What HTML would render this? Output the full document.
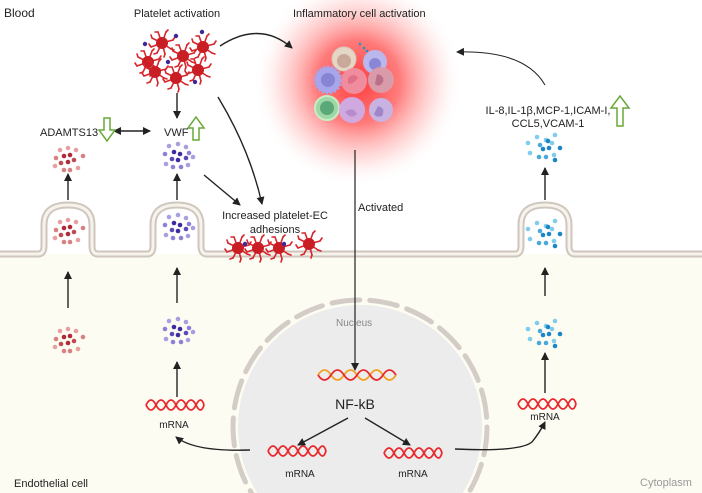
<!DOCTYPE html>
<html><head><meta charset="utf-8"><style>
html,body{margin:0;padding:0;background:#fff;width:702px;height:493px;overflow:hidden}
svg{display:block}
text{font-family:"Liberation Sans",sans-serif;fill:#222}
</style></head><body>
<svg width="702" height="493" viewBox="0 0 702 493" xmlns="http://www.w3.org/2000/svg" style="overflow:hidden">
<defs>
<radialGradient id="glow" cx="0.5" cy="0.5" r="0.5">
<stop offset="0" stop-color="#ff3030" stop-opacity="0.95"/>
<stop offset="0.4" stop-color="#ff5050" stop-opacity="0.75"/>
<stop offset="0.75" stop-color="#ffa0a0" stop-opacity="0.3"/>
<stop offset="1" stop-color="#ffffff" stop-opacity="0"/>
</radialGradient>
<clipPath id="cl"><rect x="0" y="0" width="702" height="493"/></clipPath>
<marker id="ah" markerWidth="8" markerHeight="8" refX="7" refY="4" orient="auto" markerUnits="userSpaceOnUse"><path d="M0,0 L8,4 L0,8 z" fill="#222"/></marker>
<marker id="ahs" markerWidth="8" markerHeight="8" refX="1" refY="4" orient="auto-start-reverse" markerUnits="userSpaceOnUse"><path d="M0,0 L8,4 L0,8 z" fill="#222"/></marker>
<g id="plt">
<g stroke="#d8262b" stroke-width="1.6" stroke-linecap="round" fill="none">
<path d="M0,0 L11,-3 M0,0 L9,6 M0,0 L3,11 M0,0 L-5,10 M0,0 L-11,4 M0,0 L-10,-5 M0,0 L-4,-11 M0,0 L4,-11"/>
<path d="M11,-3 l2,-3 M9,6 l3,1 M3,11 l-1,3 M-5,10 l-3,1 M-11,4 l-2,-3 M-10,-5 l-1,-3 M-4,-11 l-3,0 M4,-11 l2,-2"/>
</g>
<circle r="6" fill="#c81e24"/>
</g>
<g id="dna">
<path d="M0,0 q5,-10 10,0 t10,0 t10,0 t10,0 t10,0 t8,0" stroke="#e8282c" stroke-width="1.8" fill="none"/>
<path d="M0,0 q5,10 10,0 t10,0 t10,0 t10,0 t10,0 t8,0" stroke="#e8282c" stroke-width="1.8" fill="none"/>
</g>
</defs>
<g clip-path="url(#cl)">
<rect x="0" y="254" width="702" height="239" fill="#fdfcf3"/>
<circle cx="360" cy="427" r="122" fill="#ececec"/>
<circle cx="360" cy="427" r="127" fill="none" stroke="#d4ccc6" stroke-width="5" stroke-dasharray="28 10" stroke-linecap="round"/>
</g>
<text x="336" y="326" font-size="10" style="fill:#888">Nucleus</text>
<g fill="none" stroke-linecap="round">
<path d="M0,254 H38 Q44,254 44,246 V225 Q44,205 68,205 Q92,205 92,225 V246 Q92,254 98,254 H147 Q153,254 153,246 V225 Q153,205 177,205 Q201,205 201,225 V246 Q201,254 207,254 H515 Q521,254 521,246 V225 Q521,205 545,205 Q569,205 569,225 V246 Q569,254 575,254 H702" stroke="#cfc6bd" stroke-width="7"/>
<path d="M0,254 H38 Q44,254 44,246 V225 Q44,205 68,205 Q92,205 92,225 V246 Q92,254 98,254 H147 Q153,254 153,246 V225 Q153,205 177,205 Q201,205 201,225 V246 Q201,254 207,254 H515 Q521,254 521,246 V225 Q521,205 545,205 Q569,205 569,225 V246 Q569,254 575,254 H702" stroke="#f6f2ec" stroke-width="3"/>
</g>
<circle cx="358" cy="82" r="105" fill="url(#glow)"/>
<g>
<circle cx="344" cy="59" r="12" fill="#e6d6c6" stroke="#d9c7b6"/><circle cx="344" cy="61" r="7" fill="#c9a99a"/>
<circle cx="375" cy="62" r="12" fill="#b9b7ec"/><circle cx="375" cy="64" r="6" fill="#8a86d6"/>
<circle cx="328" cy="80" r="13" fill="#a9a5ea" stroke="#a9a5ea" stroke-width="3" stroke-dasharray="2 2"/><circle cx="328" cy="80" r="7" fill="#8884d4"/>
<circle cx="354" cy="81" r="13" fill="#ef8d9f"/><path d="M348,78 q6,-6 10,0 q-4,6 -10,6" fill="#e07088"/>
<circle cx="381" cy="80" r="13" fill="#d99aaa"/><path d="M377,74 q8,2 6,8 q-4,6 -8,2" fill="#b97088"/>
<circle cx="327" cy="108" r="12" fill="#9ed6a6" stroke="#c8ecc6" stroke-width="2"/><circle cx="327" cy="108" r="7" fill="#5aa878"/>
<circle cx="352" cy="110" r="13" fill="#d0a9e0"/><path d="M345,112 q8,-6 12,2 q-6,6 -12,-2" fill="#b88ccc"/>
<circle cx="381" cy="110" r="12" fill="#c8b2e2"/><path d="M378,106 q8,2 4,10 q-6,2 -8,-2" fill="#9f86c8"/>
<circle cx="360" cy="44" r="1.3" fill="#2a8ec8"/><circle cx="364" cy="48" r="1.3" fill="#2a8ec8"/><circle cx="367" cy="51" r="1.3" fill="#2a8ec8"/>
</g>
<use href="#plt" x="162" y="43"/><use href="#plt" x="203" y="47"/><use href="#plt" x="183" y="56"/>
<use href="#plt" x="148" y="62"/><use href="#plt" x="155" y="72"/><use href="#plt" x="176" y="78"/><use href="#plt" x="198" y="70"/>
<g fill="#3a2a9a"><circle cx="145" cy="44" r="2.2"/><circle cx="176" cy="36" r="2.2"/><circle cx="202" cy="32" r="2.2"/><circle cx="168" cy="62" r="2.2"/><circle cx="195" cy="82" r="2.2"/></g>
<use href="#plt" x="238" y="248"/><use href="#plt" x="258" y="248"/><use href="#plt" x="279" y="248"/><use href="#plt" x="309" y="244"/>
<g fill="#3a2a9a"><circle cx="245" cy="244" r="2.2"/><circle cx="284" cy="244" r="2.2"/></g>
<g id="dotsR">
<circle cx="60" cy="150" r="2.3" fill="#e6a0a0"/><circle cx="68" cy="148" r="2.3" fill="#e6a0a0"/><circle cx="76" cy="150" r="2.3" fill="#e6a0a0"/>
<circle cx="56" cy="158" r="2.3" fill="#d98080"/><circle cx="64" cy="156" r="2.3" fill="#b02a36"/><circle cx="70" cy="155" r="2.3" fill="#b02a36"/><circle cx="83" cy="156" r="2.3" fill="#d98080"/>
<circle cx="61" cy="163" r="2.3" fill="#c04a50"/><circle cx="68" cy="162" r="2.3" fill="#b02a36"/><circle cx="74" cy="160" r="2.3" fill="#c04a50"/>
<circle cx="55" cy="166" r="2.3" fill="#e6a0a0"/><circle cx="64" cy="170" r="2.3" fill="#d98080"/><circle cx="70" cy="170" r="2.3" fill="#d98080"/><circle cx="78" cy="168" r="2.3" fill="#e6a0a0"/>
</g>
<use href="#dotsR" x="0" y="72"/>
<use href="#dotsR" x="0" y="181"/>
<g id="dotsB">
<circle cx="169" cy="146" r="2.3" fill="#a89ee0"/><circle cx="178" cy="144" r="2.3" fill="#a89ee0"/><circle cx="186" cy="147" r="2.3" fill="#a89ee0"/>
<circle cx="165" cy="154" r="2.3" fill="#8e80d8"/><circle cx="174" cy="152" r="2.3" fill="#3c2aa0"/><circle cx="180" cy="154" r="2.3" fill="#3c2aa0"/><circle cx="189" cy="153" r="2.3" fill="#8e80d8"/>
<circle cx="172" cy="159" r="2.3" fill="#5a48b8"/><circle cx="178" cy="160" r="2.3" fill="#3c2aa0"/><circle cx="186" cy="158" r="2.3" fill="#5a48b8"/><circle cx="193" cy="157" r="2.3" fill="#a89ee0"/>
<circle cx="166" cy="164" r="2.3" fill="#a89ee0"/><circle cx="173" cy="167" r="2.3" fill="#8e80d8"/><circle cx="181" cy="167" r="2.3" fill="#8e80d8"/><circle cx="188" cy="165" r="2.3" fill="#a89ee0"/>
</g>
<use href="#dotsB" x="0" y="71"/>
<use href="#dotsB" x="0" y="175"/>
<g id="dotsC">
<circle cx="537" cy="137" r="2.3" fill="#80ccec"/><circle cx="546" cy="140" r="2.3" fill="#80ccec"/><circle cx="555" cy="135" r="2.3" fill="#80ccec"/>
<circle cx="528" cy="143" r="2.3" fill="#80ccec"/><circle cx="540" cy="145" r="2.3" fill="#4aa8dc"/><circle cx="548" cy="141" r="2.3" fill="#1a86c8"/><circle cx="552" cy="143" r="2.3" fill="#80ccec"/>
<circle cx="543" cy="149" r="2.3" fill="#1a86c8"/><circle cx="549" cy="148" r="2.3" fill="#1a86c8"/><circle cx="560" cy="148" r="2.3" fill="#1a86c8"/>
<circle cx="530" cy="153" r="2.3" fill="#80ccec"/><circle cx="539" cy="157" r="2.3" fill="#4aa8dc"/><circle cx="546" cy="157" r="2.3" fill="#4aa8dc"/><circle cx="554" cy="155" r="2.3" fill="#80ccec"/><circle cx="555" cy="160" r="2.3" fill="#1a86c8"/>
</g>
<use href="#dotsC" x="0" y="86"/>
<use href="#dotsC" x="0" y="186"/>
<use href="#dna" x="146" y="405"/>
<use href="#dna" x="518" y="404"/>
<use href="#dna" x="268" y="451"/>
<use href="#dna" x="384" y="453"/>
<g>
<path d="M318,375 q6.5,-10 13,0 t13,0 t13,0 t13,0 t13,0 t13,0" stroke="#f0a020" stroke-width="1.8" fill="none"/>
<path d="M318,375 q6.5,10 13,0 t13,0 t13,0 t13,0 t13,0 t13,0" stroke="#e8282c" stroke-width="1.8" fill="none"/>
</g>
<g stroke="#222" stroke-width="1.4" fill="none" marker-end="url(#ah)">
<path d="M177,93 V118"/>
<path d="M68,200 V174"/><path d="M177,200 V174"/><path d="M545,200 V168"/>
<path d="M68,308 V272"/><path d="M177,303 V268"/><path d="M545,296 V268"/>
<path d="M177,397 V362"/><path d="M545,393 V353"/>
<path d="M204,175 L240,205"/>
<path d="M218,97 Q250,150 262,204"/>
<path d="M220,46 Q260,20 292,48"/>
<path d="M545,85 Q525,50 457,52" stroke-width="1"/>
<path d="M355,150 V370" stroke-width="1.2"/>
<path d="M348,418 L298,445"/><path d="M365,418 L410,445"/>
<path d="M250,450 Q195,452 176,437"/>
<path d="M455,449 Q520,452 532,442 Q540,432 545,422"/>
</g>
<path d="M120,131 H150" stroke="#222" stroke-width="1.4" marker-start="url(#ahs)" marker-end="url(#ah)"/>
<path d="M104,118 h6 v12 h5 l-8,11 l-8,-11 h5 z" fill="#fff" stroke="#6aa83a" stroke-width="1.5"/>
<path d="M193,140 h6 v-12 h5 l-8,-11 l-8,11 h5 z" fill="#fff" stroke="#6aa83a" stroke-width="1.5"/>
<path d="M617,126 h6 v-18 h6 l-9,-12 l-9,12 h6 z" fill="#fff" stroke="#6aa83a" stroke-width="1.5"/>
<text x="4" y="17" font-size="12">Blood</text>
<text x="177" y="17" font-size="11" text-anchor="middle">Platelet activation</text>
<text x="293" y="17" font-size="11">Inflammatory cell activation</text>
<text x="40" y="136" font-size="11">ADAMTS13</text>
<text x="164" y="136" font-size="11">VWF</text>
<text x="275" y="219" font-size="11" text-anchor="middle">Increased platelet-EC</text>
<text x="275" y="233" font-size="11" text-anchor="middle">adhesions</text>
<text x="358" y="211" font-size="11">Activated</text>
<text x="548" y="114" font-size="11" text-anchor="middle">IL-8,IL-1β,MCP-1,ICAM-I,</text>
<text x="548" y="127" font-size="11" text-anchor="middle">CCL5,VCAM-1</text>
<text x="174" y="428" font-size="10" text-anchor="middle">mRNA</text>
<text x="545" y="420" font-size="10" text-anchor="middle">mRNA</text>
<text x="300" y="477" font-size="10" text-anchor="middle">mRNA</text>
<text x="413" y="477" font-size="10" text-anchor="middle">mRNA</text>
<text x="355" y="409" font-size="14" text-anchor="middle">NF-kB</text>
<text x="14" y="487" font-size="11">Endothelial cell</text>
<text x="640" y="486" font-size="11" style="fill:#999">Cytoplasm</text>
</svg>
</body></html>
